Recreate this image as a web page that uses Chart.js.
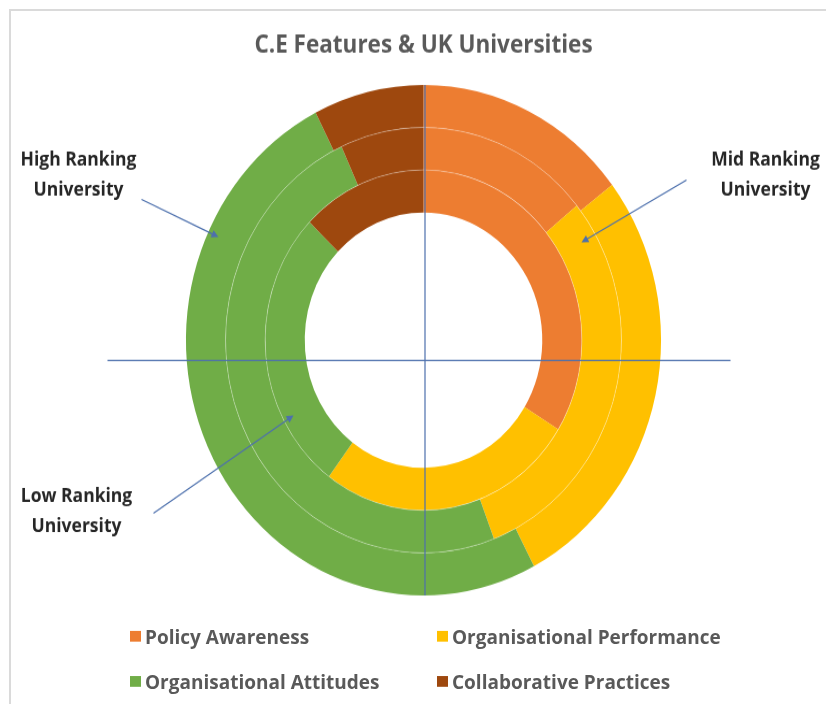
<!DOCTYPE html>
<html>
<head>
<meta charset="utf-8">
<script src="https://cdn.jsdelivr.net/npm/chart.js@4/dist/chart.umd.min.js"></script>
<style>
  html, body { margin: 0; padding: 0; background: #fff; }
  body { width: 826px; height: 704px; overflow: hidden; position: relative; }
  #frame { position: absolute; left: 9px; top: 9px; right: 0; bottom: 0;
           border-left: 2px solid #dadada; border-top: 2px solid #dadada; }
  /* the source picture is stretched a little vertically, so is this one */
  #stage { position: absolute; left: 0; top: 0; width: 826px; height: 655px;
           transform: scaleY(1.0748); transform-origin: 0 0; }
  #legend { position: absolute; left: 0; top: 0; width: 826px; height: 655px;
            font-family: "Open Sans"; font-weight: bold; font-size: 19px; color: #595959; }
  .item { position: absolute; display: flex; align-items: center; white-space: nowrap; line-height: 24px; }
  .box { width: 11px; height: 10px; margin-right: 4px; }
</style>
</head>
<body>
<div id="frame"></div>
<div id="stage">
  <canvas id="ringChart" width="826" height="655"></canvas>
  <div id="legend"></div>
</div>
<script>
const categories = ['Policy Awareness', 'Organisational Performance', 'Organisational Attitudes', 'Collaborative Practices'];
const universities = ['High Ranking University', 'Mid Ranking University', 'Low Ranking University'];
const highRanking = [14.6, 27.7, 50.2, 7.5];
const midRanking = [14.1, 30.1, 49.0, 6.8];
const lowRanking = [33.8, 26.4, 27.0, 12.8];
const colors = ['#ED7D31', '#FFC000', '#70AD47', '#9E480E'];

// callout text + arrow, offsets from the ring centre
const callouts = [
  { text: ['High Ranking', 'University'], lx: -345, ly: -167, sx: -282, sy: -131, tx: -205, ty: -96 },
  { text: ['Mid Ranking', 'University'], lx: 342, ly: -167, sx: 263, sy: -149, tx: 158, ty: -91 },
  { text: ['Low Ranking', 'University'], lx: -347, ly: 146, sx: -270, sy: 161, tx: -130, ty: 70 }
];

const overlay = {
  id: 'overlay',
  afterDatasetsDraw(chart) {
    const ctx = chart.ctx;
    const first = chart.getDatasetMeta(0).data[0];
    const cx = first.x, cy = first.y, R = first.outerRadius;

    ctx.save();
    // faint ring separators
    ctx.strokeStyle = 'rgba(255,255,255,0.3)';
    ctx.lineWidth = 1;
    chart.data.datasets.forEach((d, i) => {
      if (i === 0) return;
      const a = chart.getDatasetMeta(i).data[0];
      ctx.beginPath();
      ctx.arc(cx, cy, a.outerRadius, 0, Math.PI * 2);
      ctx.stroke();
    });

    // cross lines
    ctx.strokeStyle = '#4d70ad';
    ctx.lineWidth = 1.2;
    ctx.beginPath();
    ctx.moveTo(cx + 1.5, cy - R);
    ctx.lineTo(cx + 1.5, cy + R);
    ctx.moveTo(cx - 316, cy + 19);
    ctx.lineTo(cx + 307, cy + 19);
    ctx.stroke();

    // arrows
    ctx.fillStyle = '#4d70ad';
    callouts.forEach(c => {
      const x1 = cx + c.sx, y1 = cy + c.sy, x2 = cx + c.tx, y2 = cy + c.ty;
      const ang = Math.atan2(y2 - y1, x2 - x1);
      ctx.beginPath();
      ctx.moveTo(x1, y1);
      ctx.lineTo(x2 - 5 * Math.cos(ang), y2 - 5 * Math.sin(ang));
      ctx.stroke();
      ctx.beginPath();
      ctx.moveTo(x2, y2);
      ctx.lineTo(x2 - 7 * Math.cos(ang) + 3.5 * Math.sin(ang), y2 - 7 * Math.sin(ang) - 3.5 * Math.cos(ang));
      ctx.lineTo(x2 - 7 * Math.cos(ang) - 3.5 * Math.sin(ang), y2 - 7 * Math.sin(ang) + 3.5 * Math.cos(ang));
      ctx.closePath();
      ctx.fill();
    });

    // callout labels
    ctx.fillStyle = '#262626';
    ctx.font = 'bold 17.5px "Open Sans"';
    ctx.textAlign = 'center';
    ctx.textBaseline = 'middle';
    callouts.forEach(c => {
      c.text.forEach((t, k) => ctx.fillText(t, cx + c.lx, cy + c.ly + k * 28));
    });
    ctx.restore();
  }
};

new Chart(document.getElementById('ringChart').getContext('2d'), {
  type: 'doughnut',
  data: {
    labels: categories,
    datasets: [
      { label: universities[0], data: highRanking, backgroundColor: colors, borderWidth: 0 },
      { label: universities[1], data: midRanking, backgroundColor: colors, borderWidth: 0 },
      { label: universities[2], data: lowRanking, backgroundColor: colors, borderWidth: 0 }
    ]
  },
  options: {
    responsive: false,
    animation: false,
    cutout: '50%',
    layout: { padding: { left: 21, right: 0, top: 0, bottom: 101 } },
    plugins: {
      legend: { display: false },
      tooltip: { enabled: false },
      title: {
        display: true,
        text: 'C.E Features & UK Universities',
        color: '#595959',
        font: { family: 'Open Sans', size: 22.5, weight: 'bold' },
        padding: { top: 28.7, bottom: 23.2 }
      }
    }
  },
  plugins: [overlay]
});

// two-column legend
const legend = document.getElementById('legend');
const colX = [130, 437];
const rowY = [580, 622];
categories.forEach((name, i) => {
  const item = document.createElement('div');
  item.className = 'item';
  item.style.left = colX[i % 2] + 'px';
  item.style.top = rowY[Math.floor(i / 2)] + 'px';
  item.innerHTML = '<span class="box" style="background:' + colors[i] + '"></span>' + name;
  legend.appendChild(item);
});
</script>
</body>
</html>
